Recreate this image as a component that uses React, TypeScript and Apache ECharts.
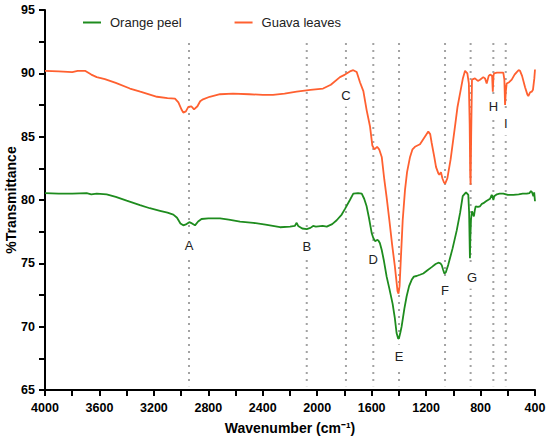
import React, { useEffect, useRef } from "react";
import * as echarts from "echarts";

const seriesNames = ["Orange peel", "Guava leaves"];
const seriesColors = ["#1e8c1e", "#ff6030"];

const orangePeel: [number, number][] = [
  [4000, 80.55], [3900, 80.5], [3800, 80.5], [3694, 80.55], [3660, 80.45], [3620, 80.5], [3547, 80.45],
  [3480, 80.25], [3400, 79.95], [3302, 79.6], [3230, 79.35], [3155, 79.15], [3100, 79.0], [3057, 78.85],
  [3030, 78.6], [3005, 78.15], [2984, 78.0], [2960, 78.1], [2940, 78.25], [2920, 78.15], [2898, 78.0],
  [2875, 78.3], [2850, 78.5], [2800, 78.55], [2714, 78.55], [2650, 78.45], [2567, 78.3], [2470, 78.2],
  [2380, 78.05], [2273, 77.85], [2200, 77.9], [2165, 77.95], [2151, 78.2], [2140, 77.95], [2110, 77.75],
  [2077, 77.7], [2050, 77.8], [2030, 77.95], [2010, 77.9], [1960, 77.95], [1930, 77.9], [1890, 78.1],
  [1857, 78.4], [1820, 78.85], [1796, 79.3], [1760, 80.0], [1735, 80.5], [1700, 80.55], [1673, 80.5],
  [1655, 80.1], [1637, 79.5], [1620, 78.6], [1600, 77.4], [1588, 77.0], [1575, 76.75], [1560, 76.85],
  [1551, 76.8], [1540, 76.6], [1526, 76.05], [1510, 75.2], [1490, 73.95], [1470, 73.0], [1446, 71.8],
  [1430, 70.7], [1417, 69.5], [1405, 69.05], [1399, 69.1], [1390, 69.5], [1380, 70.0], [1360, 71.4],
  [1343, 72.4], [1325, 73.2], [1306, 73.7], [1290, 73.95], [1270, 74.0], [1245, 74.1], [1221, 74.2],
  [1190, 74.45], [1159, 74.7], [1130, 74.95], [1110, 75.05], [1095, 75.0], [1085, 74.85], [1075, 74.5],
  [1066, 74.2], [1055, 74.3], [1037, 74.9], [1005, 76.2], [975, 77.6], [950, 79.0], [931, 80.3],
  [907, 80.6], [890, 80.4], [884, 79.0], [880, 76.5], [878, 75.4], [875, 77.0], [870, 78.5], [863, 79.1],
  [856, 78.9], [849, 78.7], [842, 79.2], [836, 79.5], [820, 79.45], [804, 79.5], [790, 79.7], [779, 79.75],
  [760, 79.9], [745, 80.0], [730, 80.1], [718, 80.4], [712, 80.3], [706, 80.0], [700, 80.3], [680, 80.45],
  [660, 80.5], [633, 80.5], [600, 80.4], [559, 80.4], [520, 80.45], [490, 80.5], [461, 80.5], [440, 80.55],
  [430, 80.7], [424, 80.65], [418, 80.5], [412, 80.3], [406, 80.6], [400, 79.9],
];

const guavaLeaves: [number, number][] = [
  [4000, 90.2], [3900, 90.15], [3800, 90.1], [3760, 90.2], [3706, 90.2], [3660, 89.9], [3620, 89.7],
  [3560, 89.55], [3480, 89.25], [3376, 88.8], [3300, 88.55], [3177, 88.15], [3100, 88.05], [3045, 88.0],
  [3020, 87.7], [2995, 87.1], [2984, 86.9], [2965, 87.0], [2947, 87.35], [2925, 87.4], [2905, 87.15],
  [2880, 87.4], [2860, 87.8], [2839, 87.95], [2790, 88.15], [2714, 88.35], [2619, 88.4], [2500, 88.35],
  [2400, 88.3], [2325, 88.3], [2240, 88.4], [2151, 88.55], [2050, 88.7], [1957, 88.8], [1900, 89.1],
  [1833, 89.7], [1796, 89.9], [1760, 90.15], [1735, 90.25], [1710, 90.1], [1686, 89.3], [1661, 88.6],
  [1637, 87.1], [1612, 85.8], [1595, 84.3], [1580, 84.0], [1560, 84.2], [1545, 84.0], [1526, 83.4],
  [1507, 81.6], [1490, 80.2], [1470, 78.4], [1450, 76.5], [1430, 74.8], [1410, 72.8], [1403, 72.6],
  [1395, 73.2], [1385, 75.5], [1372, 78.4], [1355, 80.8], [1340, 82.2], [1318, 83.4], [1300, 84.0],
  [1282, 84.2], [1245, 84.4], [1215, 84.9], [1184, 85.4], [1170, 85.2], [1159, 84.5], [1140, 83.4],
  [1127, 82.6], [1110, 82.1], [1103, 82.0], [1091, 82.2], [1080, 81.7], [1069, 81.4], [1060, 81.3],
  [1044, 81.7], [1020, 83.2], [988, 85.8], [970, 87.3], [951, 88.4], [930, 89.6], [914, 90.2],
  [897, 90.0], [886, 89.2], [880, 86.0], [876, 82.0], [873, 81.2], [869, 85.0], [863, 89.5], [841, 89.6],
  [820, 89.4], [804, 89.5], [780, 89.7], [767, 89.6], [755, 89.2], [740, 89.8], [730, 89.9], [715, 89.8],
  [710, 88.55], [705, 89.8], [701, 90.0], [680, 90.05], [660, 90.05], [633, 90.05], [625, 89.5],
  [620, 87.5], [614, 88.6], [608, 89.2], [590, 89.3], [571, 89.5], [550, 89.9], [534, 90.1], [520, 90.25],
  [510, 90.2], [495, 89.8], [473, 88.9], [455, 88.3], [449, 88.2], [436, 88.5], [424, 88.55], [415, 88.7],
  [405, 89.6], [400, 90.3],
];

const peakLabels = ["A", "B", "C", "D", "E", "F", "G", "H", "I"];
const peakWavenumbers = [2942, 2077, 1789, 1588, 1399, 1061, 873, 706, 615];
const peakLabelX = [2942, 2077, 1789, 1588, 1399, 1061, 863, 706, 615];
const peakLabelT = [76.37, 76.32, 88.24, 75.26, 67.63, 72.82, 73.87, 87.37, 85.97];
const peakLineTop = 92.4;
const peakLineBottom = 65.3;

const xTicks = { min: 400, max: 4000, interval: 400 };
const yTicks = { min: 65, max: 95, interval: 5 };

const FONT = "'Liberation Sans', Arial, Helvetica, sans-serif";

export default function App() {
  const ref = useRef<HTMLDivElement>(null);

  useEffect(() => {
    document.body.style.margin = "0";
    if (!ref.current) return;
    const chart = echarts.init(ref.current, undefined, { renderer: "svg" });

    const peakSeries = peakWavenumbers.map((wn, i) => ({
      name: "peak" + peakLabels[i],
      type: "line",
      data: [[wn, peakLineTop], [wn, peakLineBottom]],
      symbol: "none",
      silent: true,
      z: 1,
      lineStyle: { color: "#a3a3a3", width: 2, type: [2, 5] },
    }));

    const option: any = {
      animation: false,
      backgroundColor: "#ffffff",
      textStyle: { fontFamily: FONT },
      grid: { left: 45, right: 15, top: 10, bottom: 49, containLabel: false, outerBoundsMode: "none" },
      legend: {
        data: seriesNames,
        left: 78,
        top: 11,
        icon: "rect",
        itemWidth: 18,
        itemHeight: 2,
        itemGap: 53,
        textStyle: { fontSize: 13, color: "#222", fontFamily: FONT, padding: [0, 0, 0, 4] },
      },
      xAxis: {
        type: "value",
        inverse: true,
        min: xTicks.min,
        max: xTicks.max,
        interval: xTicks.interval,
        name: "Wavenumber (cm\u207B\u00B9)",
        nameLocation: "middle",
        nameGap: 31,
        nameMoveOverlap: false,
        nameTextStyle: { fontSize: 14, fontWeight: "bold", color: "#000", fontFamily: FONT },
        axisLine: { show: true, onZero: false, lineStyle: { color: "#000", width: 2 } },
        axisTick: { show: true, length: 6, lineStyle: { color: "#000", width: 2 } },
        minorTick: { show: true, splitNumber: 2, length: 6, lineStyle: { color: "#000", width: 2 } },
        axisLabel: {
          fontSize: 12.5,
          fontWeight: "bold",
          color: "#000",
          margin: 11,
          fontFamily: FONT,
          formatter: (v: number) => String(v),
        },
        splitLine: { show: false },
      },
      yAxis: {
        type: "value",
        min: yTicks.min,
        max: yTicks.max,
        interval: yTicks.interval,
        name: "%Transmittance",
        nameLocation: "middle",
        nameGap: 27,
        nameMoveOverlap: false,
        nameTextStyle: { fontSize: 14, fontWeight: "bold", color: "#000", fontFamily: FONT },
        axisLine: { show: true, onZero: false, lineStyle: { color: "#000", width: 2 } },
        axisTick: { show: true, length: 6, lineStyle: { color: "#000", width: 2 } },
        minorTick: { show: true, splitNumber: 2, length: 6, lineStyle: { color: "#000", width: 2 } },
        axisLabel: {
          fontSize: 12.5,
          fontWeight: "bold",
          color: "#000",
          margin: 10,
          fontFamily: FONT,
          formatter: (v: number) => String(v),
        },
        splitLine: { show: false },
      },
      series: [
        ...peakSeries,
        {
          name: seriesNames[0],
          type: "line",
          data: orangePeel,
          symbol: "none",
          z: 3,
          color: seriesColors[0],
          lineStyle: { color: seriesColors[0], width: 1.8 },
        },
        {
          name: seriesNames[1],
          type: "line",
          data: guavaLeaves,
          symbol: "none",
          z: 3,
          color: seriesColors[1],
          lineStyle: { color: seriesColors[1], width: 1.8 },
        },
        {
          name: "labels",
          type: "scatter",
          symbolSize: 1,
          colorBy: "series",
          itemStyle: { color: "#ffffff", opacity: 1 },
          silent: true,
          z: 5,
          data: peakLabels.map((l, i) => ({ name: l, value: [peakLabelX[i], peakLabelT[i]] })),
          label: {
            show: true,
            position: "top",
            distance: 0,
            verticalAlign: "middle",
            formatter: (p: any) => p.name,
            fontSize: 13,
            color: "#222222",
            fontFamily: FONT,
            backgroundColor: "#ffffff",
            padding: [5, 2, 5, 2],
          },
        },
      ],
    };
    chart.setOption(option);
    return () => chart.dispose();
  }, []);

  return <div ref={ref} style={{ width: 550, height: 439 }} />;
}
